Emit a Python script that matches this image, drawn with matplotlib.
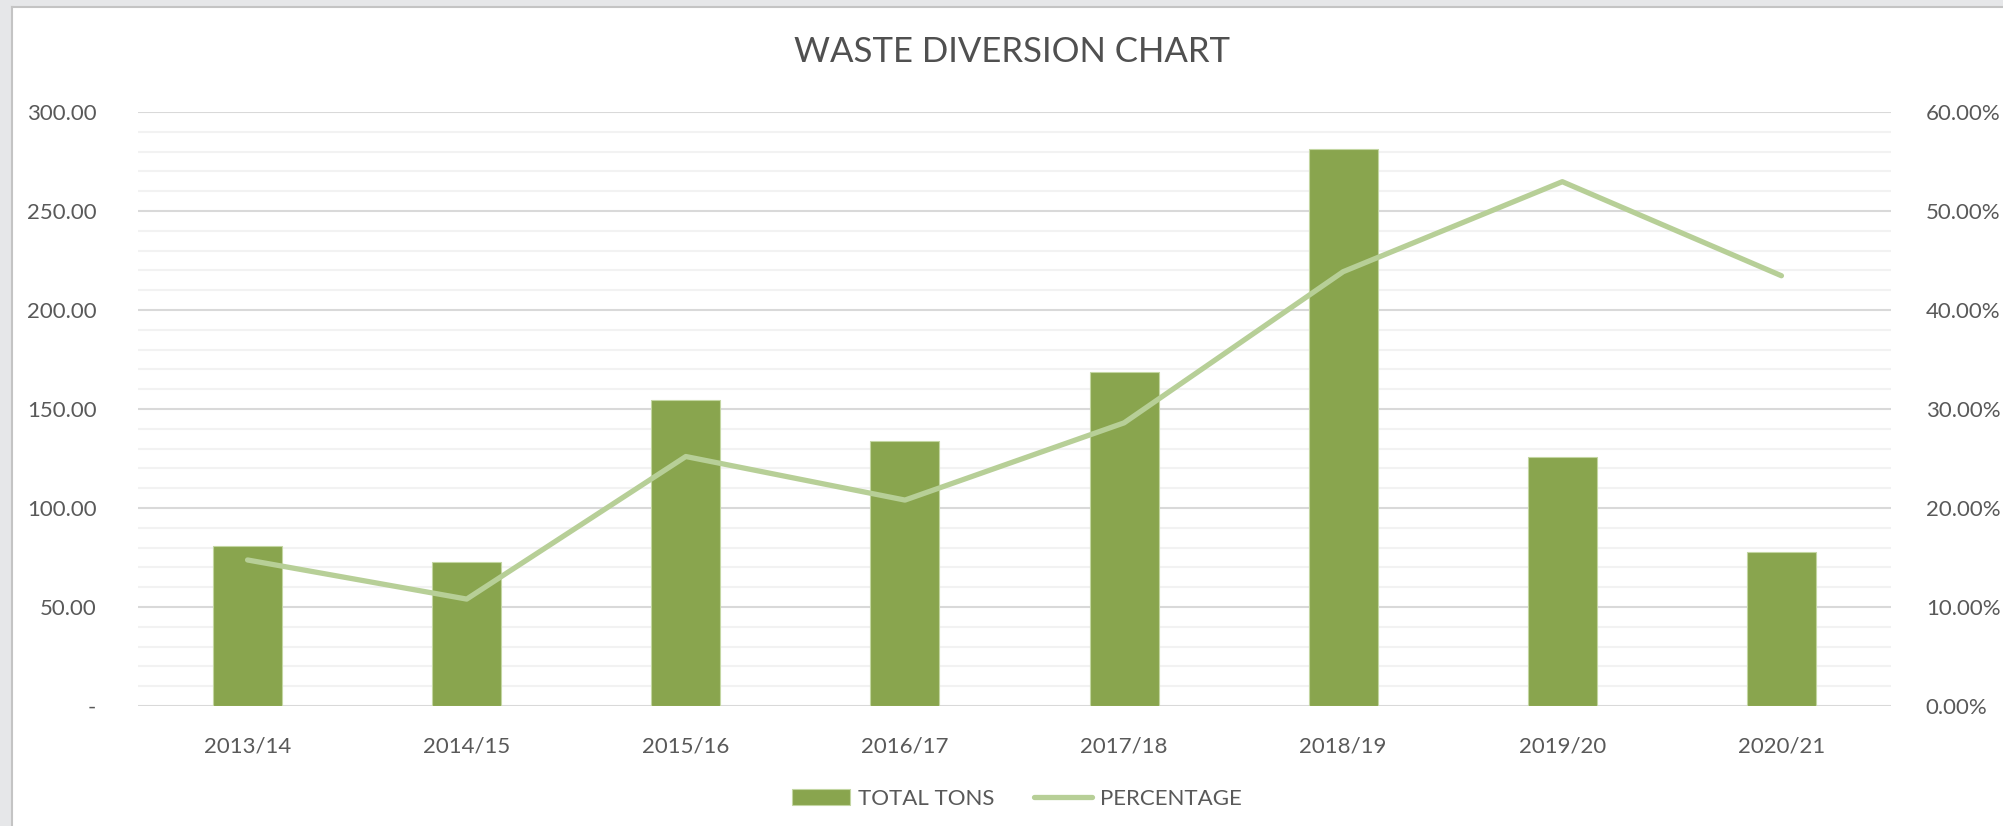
import numpy as np
import matplotlib
matplotlib.use("Agg")
import matplotlib.pyplot as plt
from matplotlib.ticker import MultipleLocator, FuncFormatter
from matplotlib.patches import Rectangle

# data
years = ["2013/14", "2014/15", "2015/16", "2016/17", "2017/18", "2018/19", "2019/20", "2020/21"]
total_tons = [80.7, 72.6, 154.6, 134.0, 168.6, 281.2, 125.9, 77.6]
percentage = [0.1475, 0.108, 0.252, 0.208, 0.286, 0.4387, 0.5296, 0.4346]

bar_col = "#89A54E"
line_col = "#B7CF97"
txt_col = "#595959"

plt.rcParams['font.family'] = ['Lato', 'DejaVu Sans']

fig = plt.figure(figsize=(20.03, 8.26), dpi=100)
fig.patch.set_facecolor("white")

# window frame bits (left and top strip)
fig.patches.append(Rectangle((0, 0), 12/2003, 1, transform=fig.transFigure,
                             facecolor="#e6e7e9", edgecolor="none", zorder=0))
fig.patches.append(Rectangle((0, 1-7/826), 1, 7/826, transform=fig.transFigure,
                             facecolor="#e6e7e9", edgecolor="none", zorder=0))
fig.lines.append(plt.Line2D([12/2003, 12/2003], [0, 1-7/826], transform=fig.transFigure,
                            color="#c4c4c4", lw=1.5))
fig.lines.append(plt.Line2D([12/2003, 1], [1-7/826, 1-7/826], transform=fig.transFigure,
                            color="#c4c4c4", lw=1.5))

ax = fig.add_axes([138/2003, 1-706/826, (1891-138)/2003, (706-112)/826])
ax2 = ax.twinx()

x = np.arange(len(years))
ax.bar(x, total_tons, width=0.315, color=bar_col, edgecolor="#c3d6a2", linewidth=0.8,
       label="TOTAL TONS", zorder=3)
ax2.plot(x, percentage, color=line_col, lw=3.8, solid_capstyle="round",
         solid_joinstyle="round", label="PERCENTAGE", zorder=4)

ax.set_xlim(-0.5, len(years) - 0.5)
ax.set_ylim(0, 300)
ax2.set_ylim(0, 0.6)

ax.yaxis.set_major_locator(MultipleLocator(50))
ax.yaxis.set_minor_locator(MultipleLocator(10))
ax2.yaxis.set_major_locator(MultipleLocator(0.1))
ax.grid(which="major", axis="y", color="#d9d9d9", lw=1.5, zorder=0)
ax.grid(which="minor", axis="y", color="#f2f2f2", lw=1.5, zorder=0)
ax.set_axisbelow(True)

ax.yaxis.set_major_formatter(FuncFormatter(lambda v, p: "-" if v == 0 else f"{v:.2f}"))
ax2.yaxis.set_major_formatter(FuncFormatter(lambda v, p: f"{v*100:.2f}%"))

ax.set_xticks(x)
ax.set_xticklabels(years)
for a in (ax, ax2):
    for s in a.spines.values():
        s.set_visible(False)
    a.tick_params(which="both", length=0, colors=txt_col, labelsize=16)
ax.tick_params(axis="y", pad=30)
ax.tick_params(axis="x", pad=22)
ax2.tick_params(axis="y", pad=25)
ax2.patch.set_visible(False)

fig.text(0.505, 1-52/826, "WASTE DIVERSION CHART", ha="center", va="center",
         fontsize=25, color="#505050")

h1, l1 = ax.get_legend_handles_labels()
h2, l2 = ax2.get_legend_handles_labels()
fig.legend(h1 + h2, l1 + l2, loc="center", bbox_to_anchor=(1017/2003, 1-799/826),
           ncol=2, frameon=False, fontsize=16, labelcolor=txt_col,
           handlelength=2.6, handletextpad=0.35, columnspacing=1.8)

fig.savefig("out.png", dpi=100, facecolor="white")
